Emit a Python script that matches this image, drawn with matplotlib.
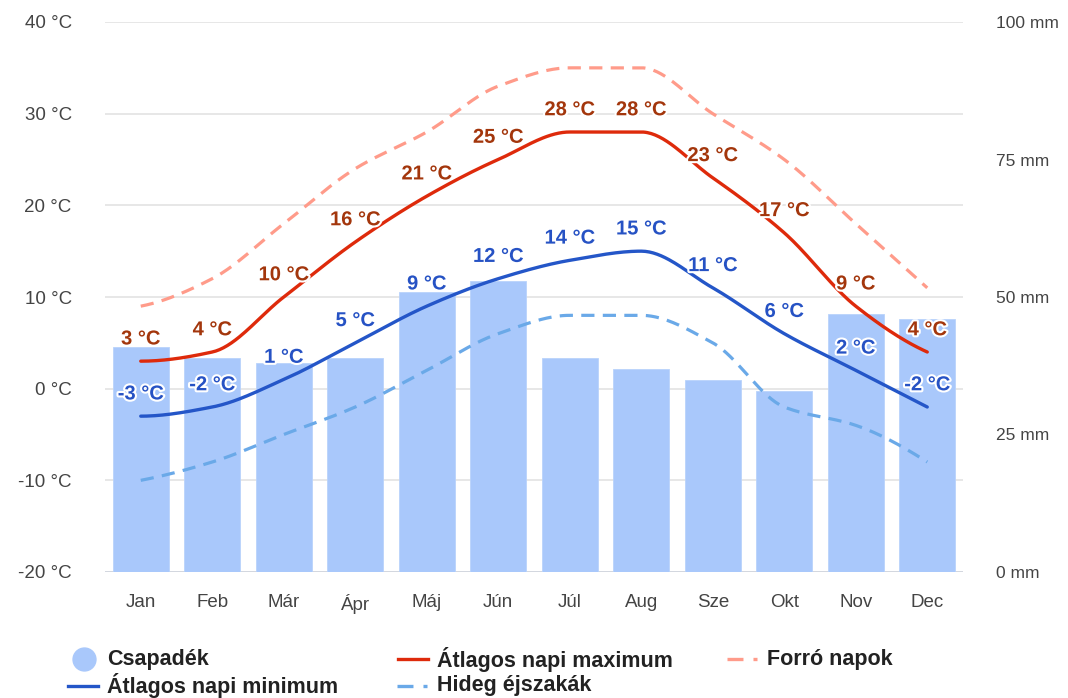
import numpy as np
import matplotlib
matplotlib.use("Agg")
import matplotlib.pyplot as plt
import matplotlib.patheffects as pe
from matplotlib.lines import Line2D

plt.rcParams['font.family'] = ['Liberation Sans', 'DejaVu Sans']
plt.rcParams['lines.scale_dashes'] = False

months = ["Jan", "Feb", "Már", "Ápr", "Máj", "Jún", "Júl", "Aug", "Sze", "Okt", "Nov", "Dec"]
precip = [41, 39, 38, 39, 51, 53, 39, 37, 35, 33, 47, 46]
t_max = [3, 4, 10, 16, 21, 25, 28, 28, 23, 17, 9, 4]
t_min = [-3, -2, 1, 5, 9, 12, 14, 15, 11, 6, 2, -2]
hot_days = [9, 12, 18, 24, 28, 33, 35, 35, 30, 25, 18, 11]
cold_nights = [-10, -8, -5, -2, 2, 6, 8, 8, 5, -2, -4, -8]

temp_ticks = [-20, -10, 0, 10, 20, 30, 40]
mm_ticks = [0, 25, 50, 75, 100]

c_bar = "#a9c8fb"
c_max = "#de2a0b"
c_min = "#2456c8"
c_hot = "#ff9b8a"
c_cold = "#6aa9e8"
c_max_lbl = "#a3360c"
c_min_lbl = "#2652c4"
c_tick = "#444444"


# monotone cubic (Fritsch-Carlson), like the smooth curves of the original
def pchip(y, n=400):
    y = np.asarray(y, float)
    d = np.diff(y)
    m = np.zeros(len(y))
    for k in range(1, len(y) - 1):
        if d[k - 1] * d[k] > 0:
            m[k] = 2.0 / (1.0 / d[k - 1] + 1.0 / d[k])
    for k, (a, b) in [(0, (d[0], d[1])), (len(y) - 1, (d[-1], d[-2]))]:
        v = (3 * a - b) / 2.0
        if np.sign(v) != np.sign(a):
            v = 0.0
        elif np.sign(a) != np.sign(b) and abs(v) > abs(3 * a):
            v = 3 * a
        m[k] = v
    xs = np.linspace(0, len(y) - 1, n)
    i = np.clip(np.floor(xs).astype(int), 0, len(y) - 2)
    t = xs - i
    h00 = 2 * t**3 - 3 * t**2 + 1
    h10 = t**3 - 2 * t**2 + t
    h01 = -2 * t**3 + 3 * t**2
    h11 = t**3 - t**2
    ys = h00 * y[i] + h10 * m[i] + h01 * y[i + 1] + h11 * m[i + 1]
    return xs, ys


W, H = 1068, 698
fig = plt.figure(figsize=(W / 100, H / 100), dpi=100)
rect = [105 / W, (H - 572) / H, (963 - 105) / W, (572 - 22) / H]

ax = fig.add_axes(rect)
x = np.arange(len(months))
ax.set_xlim(-0.5, len(months) - 0.5)
ax.set_ylim(-20, 40)
ax.set_yticks(temp_ticks)
ax.set_yticklabels([f"{v} °C" for v in temp_ticks])
ax.set_xticks(x)
ax.set_xticklabels(months)
for v in temp_ticks:
    ax.axhline(v, color="#cfd3dc" if v == -20 else "#e5e5e5", lw=1.3, zorder=0)
for s in ax.spines.values():
    s.set_visible(False)
ax.tick_params(axis="y", length=0, pad=24, labelsize=13.5, colors=c_tick)
ax.tick_params(axis="x", length=0, pad=16, labelsize=13.5, colors=c_tick)

# precipitation bars on the right axis
axb = ax.twinx()
axb.set_ylim(0, 100)
axb.set_yticks(mm_ticks)
axb.set_yticklabels([f"{v} mm" for v in mm_ticks])
axb.bar(x, precip, width=0.78, color=c_bar, edgecolor="#b9d3fb", lw=0.6)
for s in axb.spines.values():
    s.set_visible(False)
axb.tick_params(axis="y", length=0, pad=24, labelsize=12.5, colors=c_tick)
axb.patch.set_visible(False)

# temperature lines on top
axl = ax.twinx()
axl.set_ylim(-20, 40)
axl.set_yticks([])
axl.patch.set_visible(False)
for s in axl.spines.values():
    s.set_visible(False)

dash = (9.5, 6)
xs, ys = pchip(hot_days)
axl.plot(xs, ys, color=c_hot, lw=2.3, dashes=dash)
xs, ys = pchip(cold_nights)
axl.plot(xs, ys, color=c_cold, lw=2.3, dashes=dash)
xs, ys = pchip(t_max)
axl.plot(xs, ys, color=c_max, lw=2.4, solid_capstyle="round")
xs, ys = pchip(t_min)
axl.plot(xs, ys, color=c_min, lw=2.4, solid_capstyle="round")

halo = [pe.withStroke(linewidth=3, foreground="white")]
for vals, col in [(t_max, c_max_lbl), (t_min, c_min_lbl)]:
    for xi, v in zip(x, vals):
        axl.annotate(f"{v} °C", (xi, v), xytext=(0, 16), textcoords="offset points",
                     ha="center", va="center", fontsize=14.5, fontweight="bold",
                     color=col, path_effects=halo)

# legend, drawn by hand to follow the original layout
def fx(px):
    return px / W


def fy(py):
    return 1 - py / H


leg_font = dict(fontsize=15.5, fontweight="bold", color="#222222", va="center")
leg_dash = (11.5, 7.2)
r1, r2 = 659, 686
fig.add_artist(Line2D([fx(84)], [fy(r1)], marker="o", ms=16.5, color=c_bar, lw=0))
fig.text(fx(107), fy(r1), "Csapadék", **leg_font)
fig.add_artist(Line2D([fx(68), fx(98)], [fy(r2), fy(r2)], color=c_min, lw=2.4))
fig.text(fx(107), fy(r2), "Átlagos napi minimum", **leg_font)
fig.add_artist(Line2D([fx(398), fx(428)], [fy(r1), fy(r1)], color=c_max, lw=2.4))
fig.text(fx(437), fy(r1), "Átlagos napi maximum", **leg_font)
fig.add_artist(Line2D([fx(397), fx(427)], [fy(r2), fy(r2)], color=c_cold, lw=2.4,
                      dashes=leg_dash))
fig.text(fx(437), fy(r2), "Hideg éjszakák", **leg_font)
fig.add_artist(Line2D([fx(727), fx(757)], [fy(r1), fy(r1)], color=c_hot, lw=2.4,
                      dashes=leg_dash))
fig.text(fx(767), fy(r1), "Forró napok", **leg_font)

fig.savefig("out.png", dpi=100, facecolor="white")
